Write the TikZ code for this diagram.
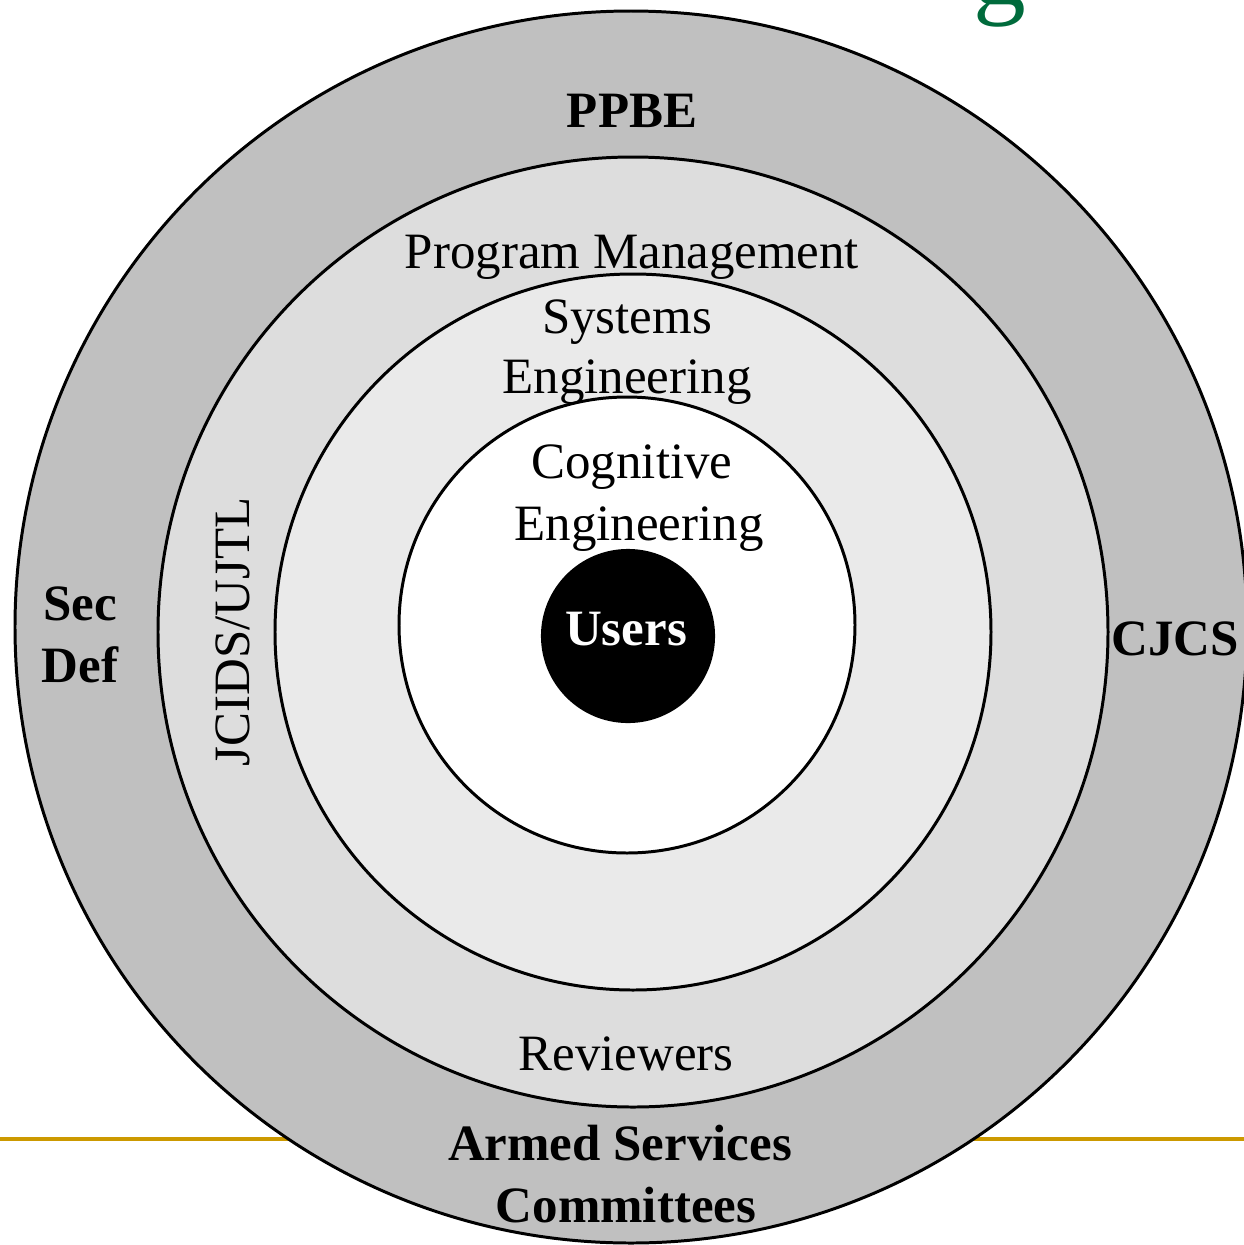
\documentclass[tikz,border=0pt]{standalone}
\usepackage{fontspec}
\setmainfont{Liberation Serif}
\definecolor{ringA}{HTML}{C0C0C0}
\definecolor{ringB}{HTML}{DDDDDD}
\definecolor{ringC}{HTML}{EAEAEA}
\definecolor{goldline}{HTML}{CC9900}
\definecolor{titlegreen}{HTML}{006B3C}
\begin{document}
\begin{tikzpicture}[x=0.02cm,y=-0.02cm,
  ring/.style={draw=black,line width=1.7pt},
  lbl/.style={font=\fontsize{29}{34.6}\selectfont,anchor=base,inner sep=0pt},
  blbl/.style={lbl,font=\fontsize{29}{34.6}\selectfont\bfseries}]
\useasboundingbox (0,0) rectangle (1244,1245);
\clip (0,0) rectangle (1244,1245);
% slide remnants
\draw[goldline,line width=2.3pt] (0,1139) -- (1244,1139);
\node[anchor=base,inner sep=0pt,text=titlegreen,font=\fontsize{60}{70}\selectfont] (tg) at (1000,4) {g};
% rings
\fill[ringA] (631,627) circle (616);
\draw[ring] (631,627) circle (616);
\filldraw[ring,fill=ringB] (633,632) circle (475);
\filldraw[ring,fill=ringC] (633,632) circle (358);
\filldraw[ring,fill=white] (627,625) circle (228);
\node[circle,fill=black,draw=black,line width=1.2pt,minimum size=172*0.02cm,inner sep=0pt] (users) at (628,636) {};
\node[blbl,text=white] (userst) at (626,645) {Users};
% labels
\node[blbl] (ppbe) at (632,127) {PPBE};
\node[lbl] (pm) at (632,268) {Program Management};
\node[lbl] (se1) at (627,333) {Systems};
\node[lbl] (se2) at (627,393) {Engineering};
\node[lbl] (ce1) at (632,478) {Cognitive};
\node[lbl] (ce2) at (639,540) {Engineering};
\node[blbl] (sec) at (80,620) {Sec};
\node[blbl] (def) at (80,682) {Def};
\node[lbl,rotate=90] (jc) at (249,632) {JCIDS/UJTL};
\node[blbl] (cjcs) at (1175,655) {CJCS};
\node[lbl] (rev) at (626,1070) {Reviewers};
\node[blbl] (asc1) at (620,1160) {Armed Services};
\node[blbl] (asc2) at (626,1222) {Committees};
\end{tikzpicture}
\end{document}
